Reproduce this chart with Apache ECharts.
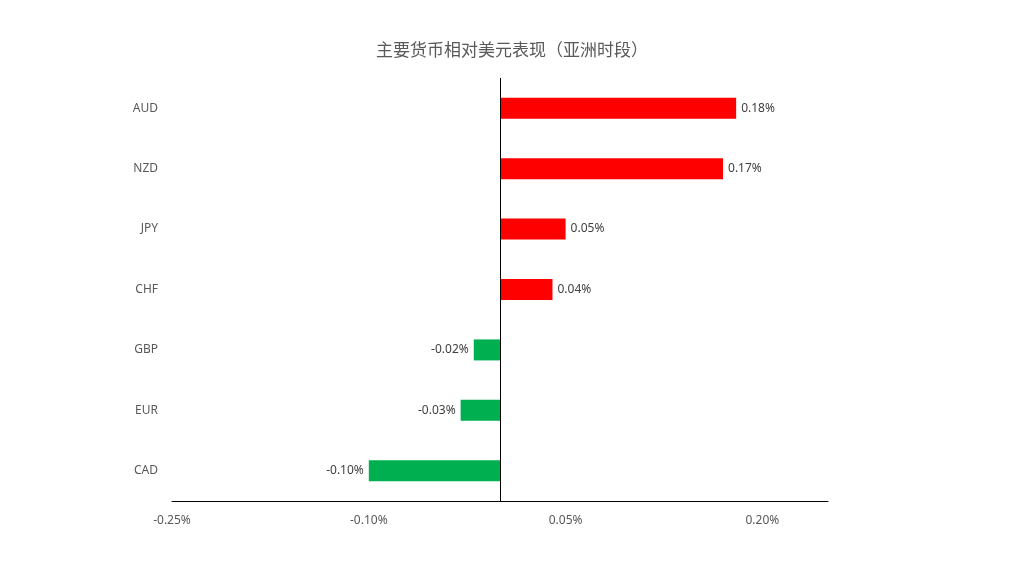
<!DOCTYPE html>
<html><head><meta charset="utf-8">
<script src="https://cdn.jsdelivr.net/npm/echarts@6/dist/echarts.min.js"></script>
<style>html,body{margin:0;padding:0;background:#fff}#c{width:1024px;height:569px}</style>
</head><body><div id="c"></div>
<script>
var categories = ['AUD','NZD','JPY','CHF','GBP','EUR','CAD'];
var values = [0.18, 0.17, 0.05, 0.04, -0.02, -0.03, -0.10];
var tickLabels = ['-0.25%','-0.10%','0.05%','0.20%'];
var chart = echarts.init(document.getElementById('c'));
chart.setOption({
  animation:false,
  title:{text:'主要货币相对美元表现（亚洲时段）',left:'center',top:36,textStyle:{fontSize:17,fontWeight:'normal',color:'#595959',fontFamily:'Noto Sans CJK SC'}},
  grid:{left:172,right:196,top:78,bottom:68},
  xAxis:{type:'value',min:-0.25,max:0.25,interval:0.05,
    splitLine:{show:false},axisTick:{show:false},
    axisLine:{show:true,onZero:false,lineStyle:{color:'#000'}},
    axisLabel:{color:'#595959',fontSize:12,margin:14,fontFamily:'Noto Sans',
      formatter:function(v){var s=v.toFixed(2)+'%';return tickLabels.indexOf(s)>=0?s:'';}}},
  yAxis:{type:'category',data:categories,inverse:true,
    axisLine:{show:false},axisTick:{show:false},
    axisLabel:{color:'#595959',fontSize:12,margin:14,fontFamily:'Noto Sans'}},
  series:[{type:'bar',barWidth:21,
    data:values.map(function(v){return {value:v,itemStyle:{color:v>=0?'#ff0000':'#00b050'}};}),
    label:{show:true,position:'right',color:'#404040',fontSize:12,fontFamily:'Noto Sans',
      formatter:function(p){return p.value.toFixed(2)+'%';}},
    labelLayout:function(p){return {};},
    markLine:{silent:true,symbol:'none',label:{show:false},lineStyle:{color:'#000',type:'solid',width:1},data:[{xAxis:0}]}
  }]
});
chart.setOption({series:[{label:{position:'right'},
  data:values.map(function(v){return {value:v,itemStyle:{color:v>=0?'#ff0000':'#00b050'},label:{position:v>=0?'right':'left'}};})}]});
</script></body></html>
